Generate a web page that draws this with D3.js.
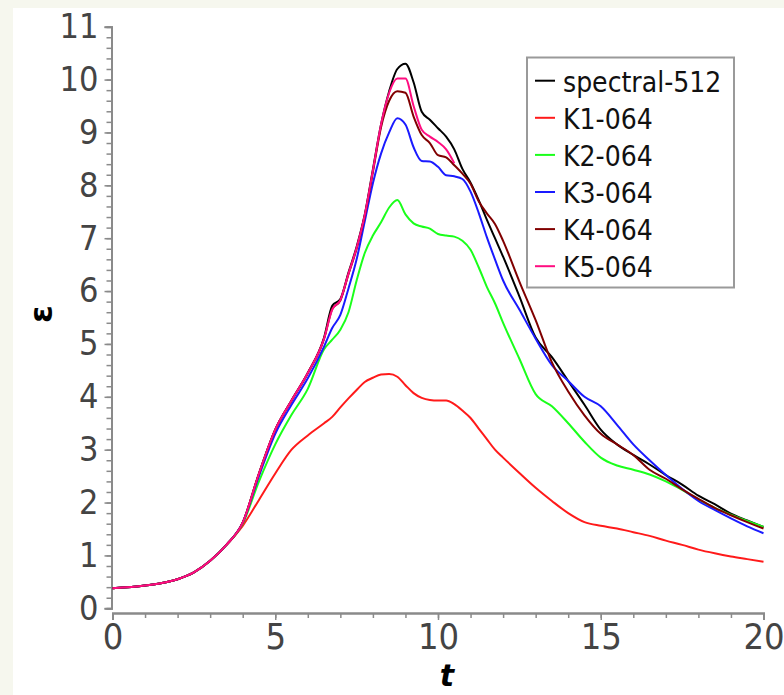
<!DOCTYPE html>
<html>
<head>
<meta charset="utf-8">
<script src="https://cdn.jsdelivr.net/npm/d3@7"></script>
<style>
  html, body { margin: 0; padding: 0; background: #f6f7ee; }
  svg { display: block; }
</style>
</head>
<body>
<svg id="chart" width="784" height="695"></svg>
<script>
// time grid shared by all runs
const times = [0, 1, 2, 2.5, 3, 3.5, 4, 4.5, 5, 5.5, 6, 6.5, 6.75, 7, 7.25, 7.5, 7.75, 8, 8.25, 8.5,
    8.75, 9, 9.25, 9.5, 9.75, 10, 10.25, 10.5, 10.75, 11, 11.25, 11.5, 11.75, 12, 12.5, 13, 13.5, 14, 14.5, 15,
    15.5, 16, 16.5, 17, 17.5, 18, 18.5, 19, 19.5, 20];

const spectral512 = [0.38, 0.43, 0.55, 0.68, 0.9, 1.2, 1.62, 2.55, 3.38, 3.93, 4.45, 5.12, 5.72, 5.85, 6.35, 6.84, 7.45, 8.3, 9.15, 9.78,
    10.2, 10.3, 9.95, 9.39, 9.24, 9.08, 8.92, 8.68, 8.31, 8.05, 7.72, 7.35, 7.0, 6.65, 5.9, 5.12, 4.75, 4.3, 3.85, 3.38,
    3.1, 2.9, 2.72, 2.52, 2.34, 2.13, 1.97, 1.79, 1.66, 1.54];
const k1 = [0.38, 0.43, 0.55, 0.68, 0.9, 1.2, 1.56, 2.05, 2.55, 3.0, 3.27, 3.5, 3.62, 3.8, 3.97, 4.13, 4.28, 4.36, 4.42, 4.43,
    4.38, 4.22, 4.07, 3.98, 3.94, 3.93, 3.93, 3.86, 3.74, 3.6, 3.4, 3.2, 3.0, 2.85, 2.56, 2.28, 2.03, 1.8, 1.63, 1.56,
    1.51, 1.44, 1.37, 1.28, 1.2, 1.11, 1.04, 0.98, 0.93, 0.88];
const k2 = [0.38, 0.43, 0.55, 0.68, 0.9, 1.2, 1.6, 2.4, 3.1, 3.66, 4.15, 4.9, 5.08, 5.27, 5.6, 6.2, 6.72, 7.05, 7.3, 7.58,
    7.72, 7.45, 7.28, 7.22, 7.18, 7.08, 7.05, 7.03, 6.95, 6.78, 6.45, 6.08, 5.77, 5.4, 4.72, 4.05, 3.82, 3.5, 3.15, 2.85,
    2.7, 2.62, 2.53, 2.4, 2.24, 2.06, 1.9, 1.77, 1.65, 1.54];
const k3 = [0.38, 0.43, 0.55, 0.68, 0.9, 1.2, 1.62, 2.5, 3.3, 3.85, 4.35, 4.95, 5.3, 5.55, 6.05, 6.6, 7.32, 8.04, 8.6, 9.0,
    9.27, 9.15, 8.72, 8.46, 8.45, 8.35, 8.19, 8.17, 8.12, 7.88, 7.48, 7.02, 6.6, 6.2, 5.65, 5.1, 4.6, 4.3, 4.0, 3.82,
    3.47, 3.1, 2.8, 2.52, 2.26, 2.03, 1.86, 1.7, 1.55, 1.42];
const k4 = [0.38, 0.43, 0.55, 0.68, 0.9, 1.2, 1.62, 2.55, 3.38, 3.93, 4.45, 5.1, 5.66, 5.82, 6.32, 6.8, 7.42, 8.25, 9.1, 9.6,
    9.78, 9.75, 9.3, 8.95, 8.8, 8.57, 8.53, 8.38, 8.22, 8.03, 7.7, 7.47, 7.27, 6.95, 6.18, 5.45, 4.65, 4.1, 3.65, 3.3,
    3.1, 2.9, 2.62, 2.45, 2.25, 2.07, 1.9, 1.76, 1.63, 1.51];
const k5 = [0.38, 0.43, 0.55, 0.68, 0.9, 1.2, 1.62, 2.55, 3.38, 3.93, 4.45, 5.1, 5.65, 5.83, 6.33, 6.82, 7.44, 8.28, 9.15, 9.75,
    10.02, 10.02, 9.5, 9.05, 8.92, 8.82, 8.68, 8.42, null, null, null, null, null, null, null, null, null, null, null, null,
    null, null, null, null, null, null, null, null, null, null];

const seriesNames = ["spectral-512", "K1-064", "K2-064", "K3-064", "K4-064", "K5-064"];
const seriesValues = [spectral512, k1, k2, k3, k4, k5];
const seriesColors = ["#000000", "#ff1a1a", "#1aff1a", "#1a1aff", "#800000", "#ff0d80"];

const xTicks = [0, 5, 10, 15, 20];
const yTicks = [0, 1, 2, 3, 4, 5, 6, 7, 8, 9, 10, 11];

const svg = d3.select("#chart");

// white panel on the cream page
svg.append("rect")
    .attr("x", 13).attr("y", 8)
    .attr("width", 784 - 13).attr("height", 695 - 8)
    .attr("fill", "#ffffff");

const x = d3.scaleLinear().domain([0, 20]).range([112.5, 763.5]);
const y = d3.scaleLinear().domain([0, 11]).range([608.3, 26.7]);

const axisColor = "#8a8a8a";
const labelFont = "'DejaVu Sans Condensed', 'DejaVu Sans', sans-serif";

// x axis, drawn a few pixels below y=0 as in the original
const xAxisY = 613;
const xMinor = d3.range(0, 21, 1);
const gxMinor = svg.append("g")
    .attr("transform", "translate(0," + xAxisY + ")")
    .call(d3.axisBottom(x).tickValues(xMinor).tickSize(5).tickFormat(""));
const gx = svg.append("g")
    .attr("transform", "translate(0," + xAxisY + ")")
    .call(d3.axisBottom(x).tickValues(xTicks).tickSize(7).tickPadding(3).tickFormat(d3.format("d")));
[gxMinor, gx].forEach(g => {
    g.select(".domain").attr("stroke", axisColor).attr("stroke-width", 2);
    g.selectAll(".tick line").attr("stroke", axisColor).attr("stroke-width", 1.5);
});
gx.selectAll(".tick text")
    .attr("fill", "#444")
    .style("font-family", labelFont)
    .style("font-size", "36px");

// y axis
const yAxisX = 111.5;
const yMinor = d3.range(0, 56).map(i => i * 0.2);
const gyMinor = svg.append("g")
    .attr("transform", "translate(" + yAxisX + ",0)")
    .call(d3.axisLeft(y).tickValues(yMinor).tickSize(5).tickFormat(""));
const gy = svg.append("g")
    .attr("transform", "translate(" + yAxisX + ",0)")
    .call(d3.axisLeft(y).tickValues(yTicks).tickSize(7).tickPadding(6).tickFormat(d3.format("d")));
[gyMinor, gy].forEach(g => {
    g.select(".domain").attr("stroke", axisColor).attr("stroke-width", 2);
    g.selectAll(".tick line").attr("stroke", axisColor).attr("stroke-width", 1.5);
});
gy.selectAll(".tick text")
    .attr("fill", "#444")
    .style("font-family", labelFont)
    .style("font-size", "34px");

// axis titles
svg.append("text")
    .attr("x", 447).attr("y", 686)
    .attr("text-anchor", "middle")
    .style("font-family", "'DejaVu Sans', sans-serif")
    .style("font-weight", "bold")
    .style("font-style", "italic")
    .style("font-size", "30px")
    .text("t");

svg.append("text")
    .attr("transform", "translate(52,314) rotate(-90)")
    .attr("text-anchor", "middle")
    .style("font-family", "'DejaVu Sans', sans-serif")
    .style("font-weight", "bold")
    .style("font-size", "32px")
    .text("ε");

// curves
const line = d3.line()
    .defined(d => d.v !== null)
    .x(d => x(d.t))
    .y(d => y(d.v))
    .curve(d3.curveMonotoneX);

seriesValues.forEach((vals, i) => {
    const data = times.map((t, j) => ({ t: t, v: vals[j] }));
    svg.append("path")
        .datum(data)
        .attr("fill", "none")
        .attr("stroke", seriesColors[i])
        .attr("stroke-width", 2)
        .attr("stroke-linejoin", "round")
        .attr("d", line);
});

// legend
const legend = svg.append("g");
legend.append("rect")
    .attr("x", 527).attr("y", 57.5)
    .attr("width", 207).attr("height", 230)
    .attr("fill", "#ffffff")
    .attr("stroke", "#9a9a9a")
    .attr("stroke-width", 2);

seriesNames.forEach((name, i) => {
    const cy = 80.7 + i * 37.1;
    legend.append("line")
        .attr("x1", 535).attr("x2", 555)
        .attr("y1", cy).attr("y2", cy)
        .attr("stroke", seriesColors[i])
        .attr("stroke-width", 2);
    legend.append("text")
        .attr("x", 563).attr("y", cy + 11)
        .attr("fill", "#111")
        .style("font-family", labelFont)
        .style("font-size", "28px")
        .text(name);
});
</script>
</body>
</html>
